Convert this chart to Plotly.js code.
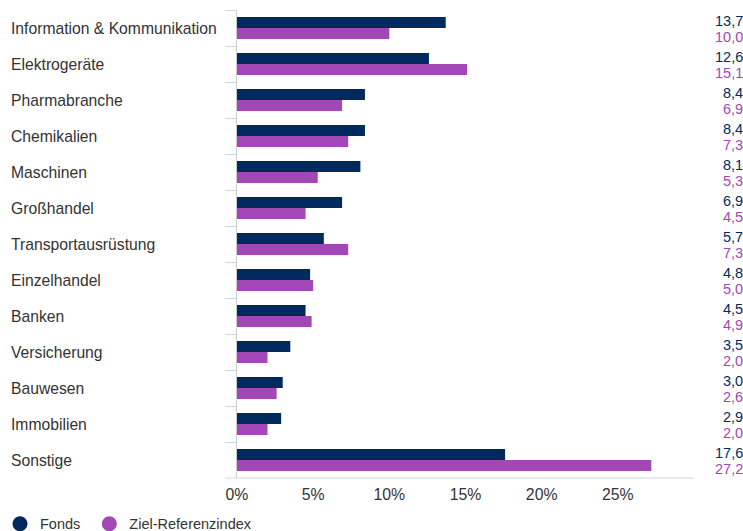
<!DOCTYPE html>
<html>
<head>
<meta charset="utf-8">
<script src="https://cdn.plot.ly/plotly-3.0.1.min.js"></script>
<style>html,body{margin:0;padding:0;background:#fff;}#chart{width:743px;height:531px;}</style>
</head>
<body>
<div id="chart"></div>
<script>
const categories = ["Information & Kommunikation","Elektrogeräte","Pharmabranche","Chemikalien","Maschinen","Großhandel","Transportausrüstung","Einzelhandel","Banken","Versicherung","Bauwesen","Immobilien","Sonstige"];
const fonds = [13.7,12.6,8.4,8.4,8.1,6.9,5.7,4.8,4.5,3.5,3.0,2.9,17.6];
const index = [10.0,15.1,6.9,7.3,5.3,4.5,7.3,5.0,4.9,2.0,2.6,2.0,27.2];
const seriesNames = ["Fonds","Ziel-Referenzindex"];
const xTicks = [0,5,10,15,20,25];

const navy = "#002A5E";
const purple = "#A346B8";
const FONT = "Liberation Sans, Arial, sans-serif";

const traces = [
  {type:"bar", orientation:"h", y:categories, x:fonds, name:seriesNames[0], marker:{color:navy}, showlegend:false, hoverinfo:"x+y"},
  {type:"bar", orientation:"h", y:categories, x:index, name:seriesNames[1], marker:{color:purple}, showlegend:false, hoverinfo:"x+y"},
  {type:"scatter", mode:"markers", x:[null], y:[null], name:seriesNames[0] + "\u00a0", marker:{color:navy, size:15, symbol:"circle"}},
  {type:"scatter", mode:"markers", x:[null], y:[null], name:seriesNames[1], marker:{color:purple, size:15, symbol:"circle"}}
];

const fmt = v => v.toFixed(1).replace(".", ",");
const annotations = [];
categories.forEach((c, i) => {
  annotations.push({xref:"paper", yref:"y", x:-0.4989, y:c, xanchor:"left", yanchor:"middle", text:c, showarrow:false, font:{family:FONT, size:15.7, color:"#333333"}});
  annotations.push({xref:"paper", yref:"y", x:1.107, y:c, xanchor:"right", yanchor:"middle", yshift:7, text:fmt(fonds[i]), showarrow:false, borderpad:0, borderwidth:0, font:{family:FONT, size:14.5, color:navy}});
  annotations.push({xref:"paper", yref:"y", x:1.107, y:c, xanchor:"right", yanchor:"middle", yshift:-8.5, text:fmt(index[i]), showarrow:false, borderpad:0, borderwidth:0, font:{family:FONT, size:14.5, color:purple}});
});

const layout = {
  width:743, height:531,
  margin:{l:237, r:49, t:10, b:53, autoexpand:false},
  paper_bgcolor:"#ffffff", plot_bgcolor:"#ffffff",
  font:{family:FONT, color:"#333333"},
  barmode:"group", bargap:0.39, bargroupgap:0,
  xaxis:{range:[0,30], tickvals:xTicks, ticktext:xTicks.map(v=>v+"%"), showgrid:false, zeroline:false, showline:false, ticks:"", ticklabelstandoff:5, tickfont:{family:FONT, size:15.8, color:"#333333"}, fixedrange:true, automargin:false},
  yaxis:{type:"category", autorange:"reversed", showticklabels:false, showgrid:false, zeroline:false, showline:true, linecolor:"#cccccc", linewidth:1, ticks:"outside", tickson:"boundaries", ticklen:11, tickcolor:"#ccd6eb", tickwidth:1, fixedrange:true, automargin:false},
  shapes:[{type:"line", xref:"paper", yref:"paper", x0:-12/457, x1:1, y0:0, y1:0, line:{color:"#ccd6eb", width:1}}],
  annotations:annotations,
  showlegend:true,
  legend:{orientation:"h", x:-237/457, xanchor:"left", y:-0.098, yanchor:"middle", font:{family:FONT, size:14.5, color:"#333333"}, bgcolor:"rgba(0,0,0,0)"}
};

Plotly.newPlot("chart", traces, layout, {displayModeBar:false, staticPlot:true});
</script>
</body>
</html>
